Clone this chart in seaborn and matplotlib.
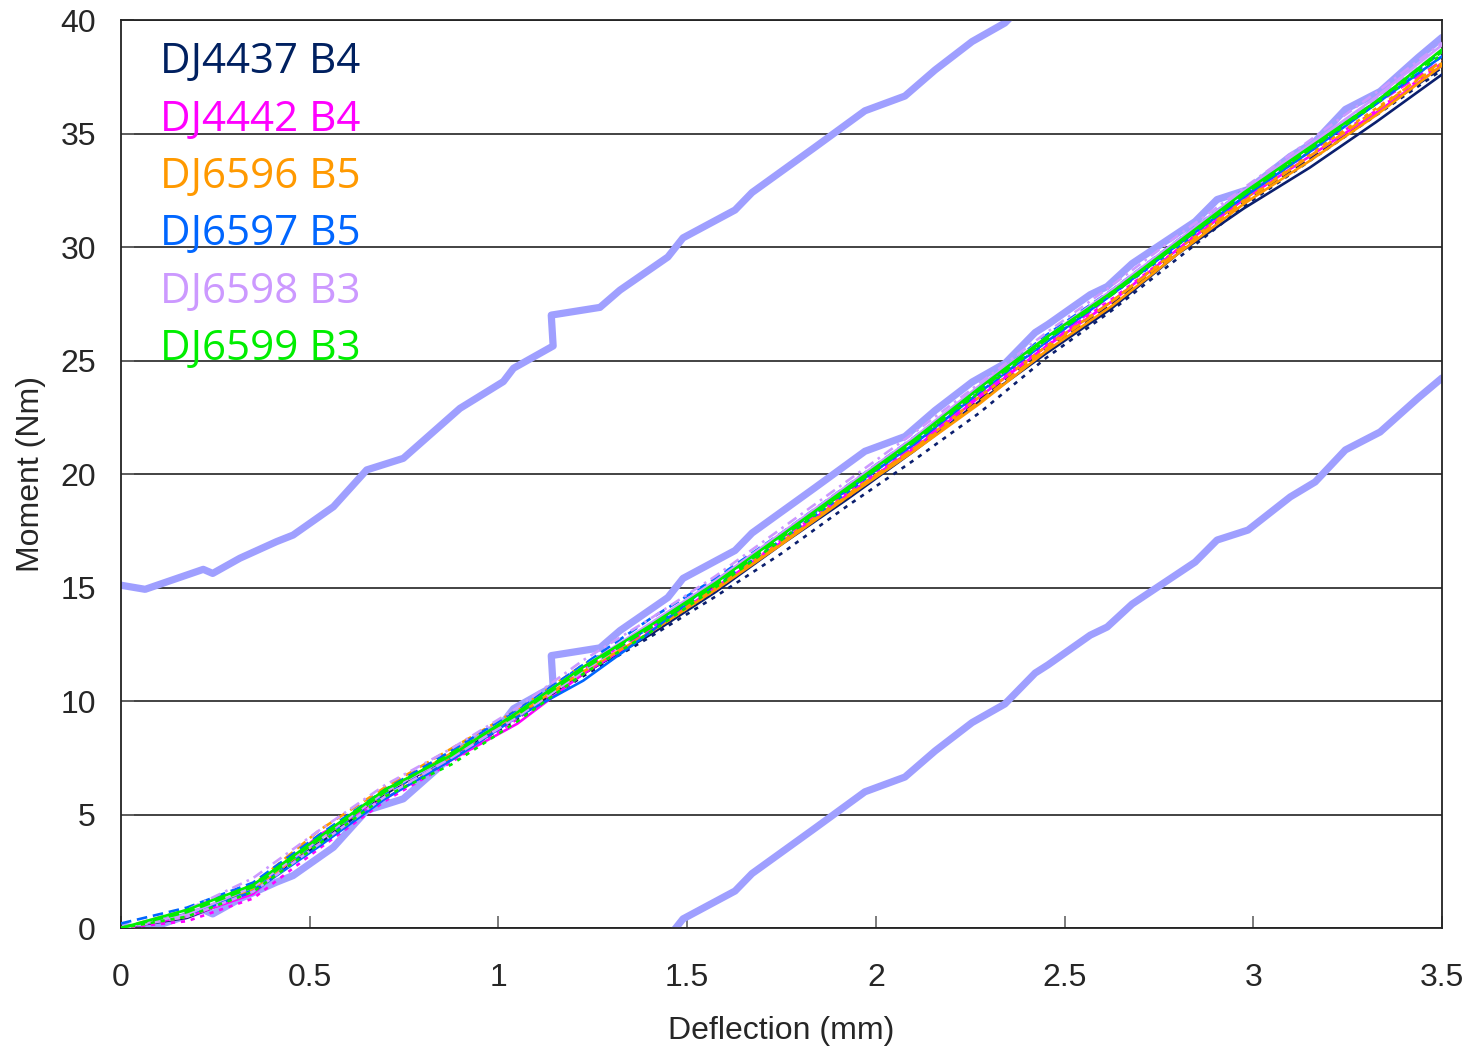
import pandas as pd
import seaborn as sns
import matplotlib.pyplot as plt

# shared deflection grid for the thin test curves (mm)
x_grid = [0, 0.175, 0.35, 0.525, 0.7, 0.875, 1.05, 1.225, 1.4, 1.575, 1.75,
          1.925, 2.1, 2.275, 2.45, 2.625, 2.8, 2.975, 3.15, 3.325, 3.5]

specimens = ["DJ4437 B4", "DJ4442 B4", "DJ6596 B5", "DJ6597 B5", "DJ6598 B3", "DJ6599 B3"]
colors = ["#0b1f6e", "#ff00ff", "#ff9900", "#0066ff", "#cc99ff", "#00ee00"]
text_colors = ["#002060", "#ff00ff", "#ff9900", "#0066ff", "#cc99ff", "#00ee00"]

# moment readings (Nm), three runs per specimen
dj4437_solid = [0, 0.45, 1.6, 3.7, 5.9, 7.6, 9.3, 11.2, 12.9, 14.8, 16.9, 18.9, 21.0, 23.2, 25.3, 27.3, 29.7, 31.7, 33.5, 35.5, 37.6]
dj4437_dash = [0, 0.6, 1.7, 3.8, 5.8, 7.6, 9.4, 11.2, 13.0, 14.9, 17.0, 19.0, 21.1, 23.3, 25.5, 27.5, 29.8, 32.0, 33.9, 35.9, 37.9]
dj4437_dot = [0, 0.5, 1.7, 3.9, 6.0, 7.5, 9.2, 11.1, 12.8, 14.6, 16.5, 18.6, 20.6, 22.7, 25.1, 27.2, 29.5, 31.8, 33.8, 35.8, 37.8]

dj4442_solid = [0, 0.5, 1.5, 4.1, 5.7, 7.4, 9.0, 11.2, 13.0, 15.0, 17.0, 19.1, 21.1, 23.4, 25.6, 27.6, 29.9, 32.1, 34.0, 35.9, 38.0]
dj4442_dash = [0, 0.7, 1.9, 3.9, 6.0, 7.6, 9.4, 11.4, 13.1, 15.1, 17.2, 19.0, 21.2, 23.5, 25.6, 27.9, 30.1, 32.2, 34.3, 36.3, 38.2]
dj4442_dot = [0, 0.3, 1.3, 3.5, 5.6, 7.3, 9.2, 11.4, 13.2, 14.9, 17.1, 19.2, 21.2, 23.5, 25.7, 27.7, 29.9, 32.2, 34.2, 36.0, 38.1]

dj6596_solid = [0, 0.6, 1.7, 3.9, 6.0, 7.7, 9.4, 11.3, 13.0, 14.9, 16.9, 19.0, 21.0, 23.1, 25.4, 27.4, 29.7, 31.9, 33.8, 35.8, 38.0]
dj6596_dash = [0, 0.8, 1.9, 4.3, 6.2, 7.9, 9.6, 11.6, 13.2, 15.0, 17.0, 19.1, 21.1, 23.2, 25.5, 27.6, 29.8, 32.0, 34.0, 36.0, 38.2]
dj6596_dot = [0, 0.5, 1.6, 3.8, 5.9, 7.5, 9.3, 11.2, 13.0, 14.9, 17.0, 19.0, 21.1, 23.4, 25.6, 27.6, 29.9, 32.1, 34.1, 36.1, 38.1]

dj6597_solid = [0, 0.6, 1.6, 3.6, 5.7, 7.4, 9.3, 10.9, 13.0, 15.3, 17.3, 19.3, 21.3, 23.6, 25.8, 27.9, 30.1, 32.2, 34.2, 36.3, 38.4]
dj6597_dash = [0.2, 0.9, 2.0, 4.1, 6.1, 7.8, 9.6, 11.6, 13.6, 15.4, 17.4, 19.5, 21.6, 23.8, 26.1, 28.1, 30.3, 32.5, 34.4, 36.4, 38.6]
dj6597_dot = [0, 0.6, 1.7, 3.8, 5.9, 7.6, 9.5, 11.6, 13.2, 15.1, 17.1, 19.2, 21.4, 23.7, 25.8, 27.9, 30.0, 32.3, 34.3, 36.3, 38.4]

dj6598_solid = [0, 0.6, 1.8, 3.9, 6.0, 7.6, 9.5, 11.5, 13.4, 15.3, 17.4, 19.5, 21.6, 23.9, 26.0, 28.1, 30.3, 32.5, 34.5, 36.6, 38.9]
dj6598_dash = [0, 0.5, 1.6, 3.7, 5.8, 7.5, 9.3, 11.3, 13.3, 15.2, 17.2, 19.4, 21.5, 23.7, 25.9, 28.0, 30.2, 32.4, 34.4, 36.5, 38.7]
dj6598_dashdot = [0, 0.8, 2.2, 4.3, 6.3, 7.9, 9.7, 11.8, 13.6, 15.5, 17.6, 19.7, 21.8, 24.0, 26.2, 28.3, 30.5, 32.6, 34.7, 36.8, 39.0]

dj6599_solid = [0, 0.8, 1.9, 4.0, 6.1, 7.6, 9.5, 11.5, 13.3, 15.2, 17.3, 19.4, 21.5, 23.8, 26.0, 28.0, 30.2, 32.4, 34.4, 36.4, 38.7]
dj6599_dash = [0, 0.7, 1.8, 3.9, 6.0, 7.7, 9.4, 11.4, 13.2, 15.1, 17.2, 19.3, 21.4, 23.7, 25.9, 27.9, 30.1, 32.3, 34.3, 36.4, 38.6]
dj6599_dot = [0, 0.5, 1.6, 3.7, 5.8, 7.2, 9.1, 11.2, 13.0, 15.0, 17.1, 19.3, 21.4, 23.6, 25.9, 28.0, 30.1, 32.3, 34.3, 36.3, 38.5]

# thick reference curve and its +/- band offset
ref_x = [0, 0.064, 0.218, 0.243, 0.315, 0.412, 0.456, 0.563, 0.651, 0.748, 0.898, 1.013,
         1.040, 1.145, 1.140, 1.269, 1.322, 1.449, 1.489, 1.627, 1.672, 1.839, 1.971, 2.077,
         2.157, 2.255, 2.342, 2.422, 2.456, 2.568, 2.613, 2.679, 2.846, 2.904, 2.986, 3.098,
         3.164, 3.244, 3.336, 3.437, 3.5]
ref_y = [0.1, -0.08, 0.8, 0.62, 1.29, 2.02, 2.31, 3.56, 5.18, 5.69, 7.89, 9.07,
         9.66, 10.64, 12.0, 12.34, 13.1, 14.56, 15.4, 16.63, 17.4, 19.4, 21.0, 21.65,
         22.8, 24.05, 24.87, 26.23, 26.59, 27.9, 28.26, 29.27, 31.12, 32.09, 32.53, 33.99,
         34.65, 36.06, 36.85, 38.35, 39.23]
band = 15.0

runs = [
    ("DJ4437 B4", "solid", dj4437_solid), ("DJ4437 B4", "dash", dj4437_dash), ("DJ4437 B4", "dot", dj4437_dot),
    ("DJ4442 B4", "solid", dj4442_solid), ("DJ4442 B4", "dash", dj4442_dash), ("DJ4442 B4", "dot", dj4442_dot),
    ("DJ6596 B5", "solid", dj6596_solid), ("DJ6596 B5", "dash", dj6596_dash), ("DJ6596 B5", "dot", dj6596_dot),
    ("DJ6597 B5", "solid", dj6597_solid), ("DJ6597 B5", "dash", dj6597_dash), ("DJ6597 B5", "dot", dj6597_dot),
    ("DJ6598 B3", "solid", dj6598_solid), ("DJ6598 B3", "dash", dj6598_dash), ("DJ6598 B3", "dashdot", dj6598_dashdot),
    ("DJ6599 B3", "solid", dj6599_solid), ("DJ6599 B3", "dash", dj6599_dash), ("DJ6599 B3", "dot", dj6599_dot),
]

rows = []
for name, kind, vals in runs:
    for xv, yv in zip(x_grid, vals):
        rows.append({"x": xv, "y": yv, "specimen": name, "kind": kind})
df = pd.DataFrame(rows)

ref = pd.DataFrame({"x": ref_x, "y": ref_y})

sns.set_style("white")
plt.rcParams["font.family"] = ["Liberation Sans", "DejaVu Sans"]

fig = plt.figure(figsize=(14.75, 10.51), dpi=100)
ax = fig.add_axes([0.08203, 0.11703, 0.89559, 0.86394])

sns.lineplot(data=df, x="x", y="y", hue="specimen", style="kind",
             palette=dict(zip(specimens, colors)),
             dashes={"solid": "", "dash": (4, 2.2), "dot": (1.6, 2.2), "dashdot": (4, 2, 1, 2)},
             sort=False, estimator=None, legend=False, linewidth=1.9, ax=ax, zorder=3)

# reference curve with the upper and lower band
for offset in (0.0, band, -band):
    sns.lineplot(x=ref["x"], y=ref["y"] + offset, sort=False, estimator=None,
                 color="#9f9fff", linewidth=5.2, ax=ax, zorder=2.5)

ax.set_xlim(0, 3.5)
ax.set_ylim(0, 40)
ax.set_xticks([0, 0.5, 1, 1.5, 2, 2.5, 3, 3.5])
ax.set_xticklabels(["0", "0.5", "1", "1.5", "2", "2.5", "3", "3.5"])
ax.set_yticks(range(0, 41, 5))
ax.yaxis.grid(True, color="#222222", linewidth=1.2, zorder=1)
ax.xaxis.grid(False)
ax.set_axisbelow(True)
for side in ["left", "bottom", "top", "right"]:
    ax.spines[side].set_color("#222222")
    ax.spines[side].set_linewidth(1.3)

ax.tick_params(axis="x", direction="in", length=9, width=1.2, color="#666666",
               labelsize=23, pad=25, bottom=True)
ax.tick_params(axis="y", direction="in", length=9, width=1.2, color="#666666",
               labelsize=23, pad=18, left=True)

ax.set_xlabel("Deflection (mm)", fontsize=23, labelpad=17)
ax.set_ylabel("Moment (Nm)", fontsize=23, labelpad=10)

# coloured label list in the upper left
for i, (name, tc) in enumerate(zip(specimens, text_colors)):
    ax.text(0.0295, 0.9535 - i * 0.0632, name, color=tc, fontsize=30.3,
            family=["Open Sans", "DejaVu Sans"], va="center", ha="left",
            transform=ax.transAxes, zorder=5)

fig.savefig("out.png", dpi=100)
